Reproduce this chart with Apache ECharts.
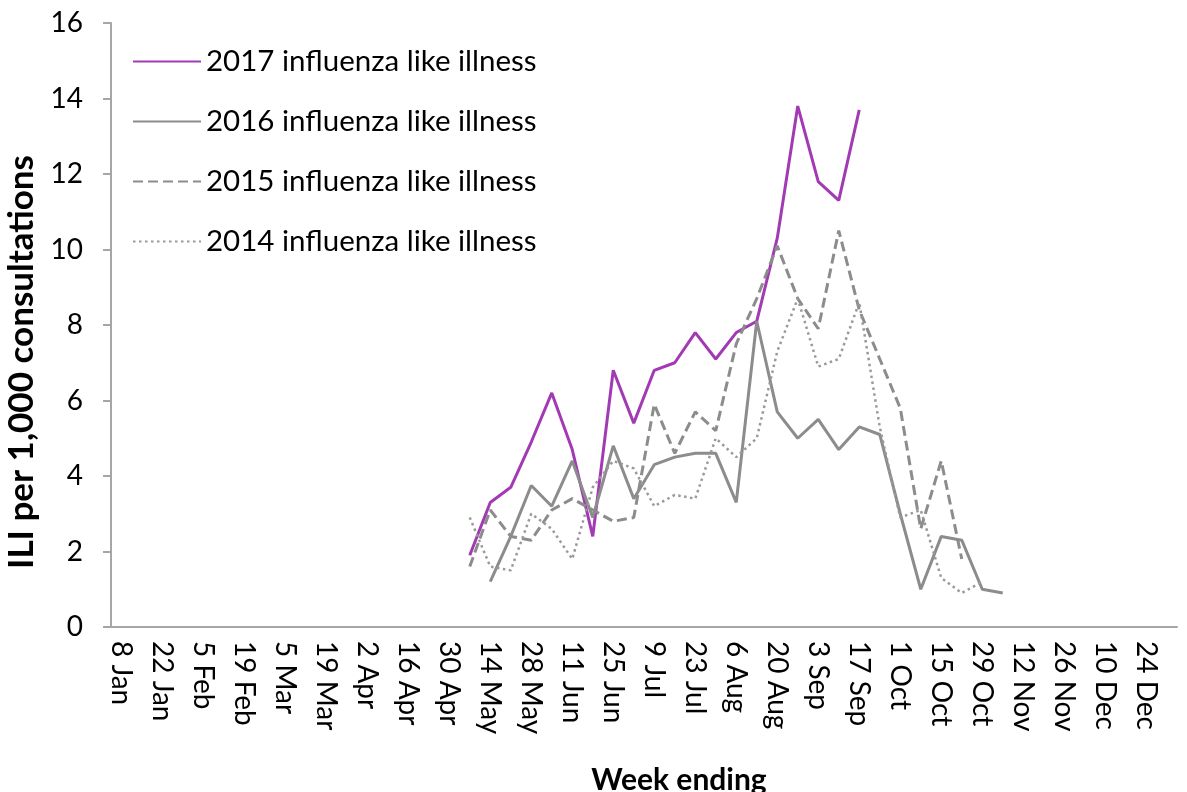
<!DOCTYPE html>
<html lang="en">
<head>
    <meta charset="UTF-8">
    <title>ILI per 1,000 consultations</title>
    <script src="https://cdn.jsdelivr.net/npm/echarts@6/dist/echarts.min.js"></script>
    <style>
        html, body { margin: 0; padding: 0; background: #fff; }
    </style>
</head>
<body>

    <div id="main" style="width:1187px; height:792px;"></div>

    <script>
        // week ending dates
        var weeks = ["8 Jan", "15 Jan", "22 Jan", "29 Jan", "5 Feb", "12 Feb", "19 Feb", "26 Feb",
            "5 Mar", "12 Mar", "19 Mar", "26 Mar", "2 Apr", "9 Apr", "16 Apr", "23 Apr", "30 Apr",
            "7 May", "14 May", "21 May", "28 May", "4 Jun", "11 Jun", "18 Jun", "25 Jun",
            "2 Jul", "9 Jul", "16 Jul", "23 Jul", "30 Jul", "6 Aug", "13 Aug", "20 Aug", "27 Aug",
            "3 Sep", "10 Sep", "17 Sep", "24 Sep", "1 Oct", "8 Oct", "15 Oct", "22 Oct", "29 Oct",
            "5 Nov", "12 Nov", "19 Nov", "26 Nov", "3 Dec", "10 Dec", "17 Dec", "24 Dec", "31 Dec"];

        // each season starts at a given week
        var start2017 = "7 May";
        var ili2017 = [1.9, 3.3, 3.7, 4.9, 6.2, 4.7, 2.4, 6.8, 5.4, 6.8, 7.0, 7.8, 7.1, 7.8, 8.1, 10.3, 13.8, 11.8, 11.3, 13.7];

        var start2016 = "14 May";
        var ili2016 = [1.2, 2.4, 3.75, 3.2, 4.4, 2.9, 4.8, 3.4, 4.3, 4.5, 4.6, 4.6, 3.3, 8.1, 5.7, 5.0, 5.5, 4.7, 5.3, 5.1, 3.0, 1.0, 2.4, 2.3, 1.0, 0.9];

        var start2015 = "7 May";
        var ili2015 = [1.6, 3.1, 2.4, 2.3, 3.1, 3.4, 3.1, 2.8, 2.9, 5.9, 4.6, 5.7, 5.2, 7.5, 8.7, 10.1, 8.7, 7.9, 10.5, 8.4, 7.1, 5.8, 2.6, 4.4, 1.8];

        var start2014 = "7 May";
        var ili2014 = [2.9, 1.6, 1.5, 3.0, 2.6, 1.8, 3.7, 4.4, 4.2, 3.2, 3.5, 3.4, 5.0, 4.5, 5.0, 7.3, 8.7, 6.9, 7.1, 8.6, 5.3, 2.9, 3.1, 1.3, 0.9, 1.2];

        var seriesNames = ["2017 influenza like illness", "2016 influenza like illness",
            "2015 influenza like illness", "2014 influenza like illness"];

        function place(startWeek, values) {
            var out = weeks.map(function () { return null; });
            var s = weeks.indexOf(startWeek);
            values.forEach(function (v, i) { out[s + i] = v; });
            return out;
        }

        var font = 'Lato, "Open Sans", sans-serif';
        var grey = '#8c8c8c';
        var axisGrey = '#a6a6a6';

        var chart = echarts.init(document.getElementById("main"));

        var options = {
            backgroundColor: '#fff',
            animation: false,
            textStyle: { fontFamily: font },
            grid: { left: 111, right: 10, top: 23, bottom: 165, containLabel: false, outerBoundsMode: 'none' },
            legend: {
                orient: 'vertical',
                left: 127,
                top: 41,
                itemWidth: 68,
                itemHeight: 14,
                itemGap: 29,
                itemStyle: { opacity: 0 },
                textStyle: { fontSize: 29.5, color: '#000', fontFamily: font, lineHeight: 31 },
                data: seriesNames
            },
            xAxis: {
                type: 'category',
                data: weeks,
                boundaryGap: true,
                name: 'Week ending',
                nameLocation: 'middle',
                nameGap: 138,
                nameTextStyle: { fontSize: 30, fontWeight: 'bold', color: '#000', padding: [0, 0, 0, 70] },
                axisLine: { lineStyle: { color: axisGrey, width: 2 } },
                axisTick: { interval: 0, length: 7, lineStyle: { color: axisGrey, width: 2 } },
                axisLabel: { interval: 1, rotate: -90, fontSize: 28, color: '#000', margin: 14, padding: [10, 0, 0, 0] }
            },
            yAxis: {
                type: 'value',
                min: 0,
                max: 16,
                interval: 2,
                name: 'ILI per 1,000 consultations',
                nameLocation: 'middle',
                nameGap: 66,
                nameTextStyle: { fontSize: 35, fontWeight: 'bold', color: '#000', padding: [0, 74, 0, 0] },
                axisLine: { show: true, lineStyle: { color: axisGrey, width: 2 } },
                axisTick: { show: true, length: 8, lineStyle: { color: axisGrey, width: 2 } },
                axisLabel: { fontSize: 28, color: '#000', margin: 28 },
                splitLine: { show: false }
            },
            series: [
                {
                    name: seriesNames[0], type: 'line', symbol: 'none',
                    data: place(start2017, ili2017),
                    lineStyle: { color: '#a23ab3', width: 3 },
                    itemStyle: { color: '#a23ab3' }
                },
                {
                    name: seriesNames[1], type: 'line', symbol: 'none',
                    data: place(start2016, ili2016),
                    lineStyle: { color: grey, width: 3 },
                    itemStyle: { color: grey }
                },
                {
                    name: seriesNames[2], type: 'line', symbol: 'none',
                    data: place(start2015, ili2015),
                    lineStyle: { color: grey, width: 3, type: [10, 5] },
                    itemStyle: { color: grey }
                },
                {
                    name: seriesNames[3], type: 'line', symbol: 'none',
                    data: place(start2014, ili2014),
                    lineStyle: { color: '#999', width: 2.5, type: [2.5, 3.5] },
                    itemStyle: { color: '#999' }
                }
            ]
        };

        chart.setOption(options);
    </script>
</body>
</html>
